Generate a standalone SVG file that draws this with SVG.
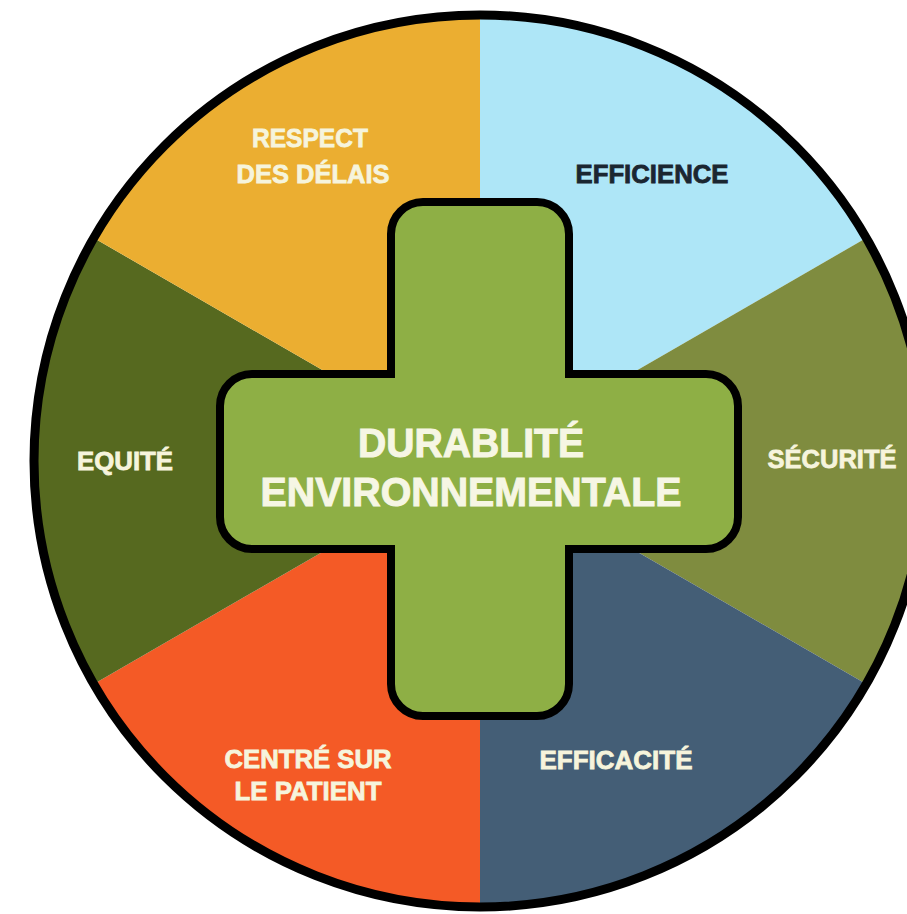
<svg xmlns="http://www.w3.org/2000/svg" width="907" height="914" viewBox="0 0 907 914">
<style>
.lbl{font-family:"Liberation Sans",Arial,sans-serif;font-weight:bold;font-size:26px;fill:#F6F4DC;stroke:#F6F4DC;stroke-width:0.8;text-anchor:middle}
.dark{fill:#1B2631;stroke:#1B2631}
.big{font-family:"Liberation Sans",Arial,sans-serif;font-weight:bold;font-size:40px;fill:#F6F6E4;stroke:#F6F6E4;stroke-width:1;text-anchor:middle}
</style>
<rect width="907" height="914" fill="#FFFFFF"/>
<g id="sectors">
<g id="efficience"><path d="M480,461 L480,15 A446,446 0 0 1 866.2,238 Z" fill="#AEE6F7"/><text class="lbl dark" x="652" y="183" textLength="153" lengthAdjust="spacingAndGlyphs">EFFICIENCE</text></g>
<g id="securite"><path d="M480,461 L866.2,238 A446,446 0 0 1 866.2,684 Z" fill="#7F8C3F"/><text class="lbl" x="832" y="468" textLength="129" lengthAdjust="spacingAndGlyphs">SÉCURITÉ</text></g>
<g id="efficacite"><path d="M480,461 L866.2,684 A446,446 0 0 1 480,907 Z" fill="#445E76"/><text class="lbl" x="616" y="769" textLength="153" lengthAdjust="spacingAndGlyphs">EFFICACITÉ</text></g>
<g id="centre-patient"><path d="M480,461 L480,907 A446,446 0 0 1 93.8,684 Z" fill="#F45A26"/><text class="lbl" x="308" y="768" textLength="167" lengthAdjust="spacingAndGlyphs">CENTRÉ SUR</text><text class="lbl" x="308" y="800" textLength="147" lengthAdjust="spacingAndGlyphs">LE PATIENT</text></g>
<g id="equite"><path d="M480,461 L93.8,684 A446,446 0 0 1 93.8,238 Z" fill="#56691F"/><text class="lbl" x="125" y="470" textLength="96" lengthAdjust="spacingAndGlyphs">EQUITÉ</text></g>
<g id="respect-delais"><path d="M480,461 L93.8,238 A446,446 0 0 1 480,15 Z" fill="#EBAE31"/><text class="lbl" x="310" y="147" textLength="116" lengthAdjust="spacingAndGlyphs">RESPECT</text><text class="lbl" x="313" y="183" textLength="153" lengthAdjust="spacingAndGlyphs">DES DÉLAIS</text></g>
</g>
<circle cx="480" cy="461" r="446" fill="none" stroke="#000" stroke-width="9"/>
<g id="durabilite">
<path d="M423,202 H537 A32,32 0 0 1 569,234 V374 H706 A32,32 0 0 1 738,406 V517 A32,32 0 0 1 706,549 H569 V684 A32,32 0 0 1 537,716 H423 A32,32 0 0 1 391,684 V549 H252 A32,32 0 0 1 220,517 V406 A32,32 0 0 1 252,374 H391 V234 A32,32 0 0 1 423,202 Z" fill="#8EAF45" stroke="#000" stroke-width="8"/>
<text class="big" x="471" y="457" textLength="226" lengthAdjust="spacingAndGlyphs">DURABLITÉ</text>
<text class="big" x="471" y="506" textLength="421" lengthAdjust="spacingAndGlyphs">ENVIRONNEMENTALE</text>
</g>
</svg>
